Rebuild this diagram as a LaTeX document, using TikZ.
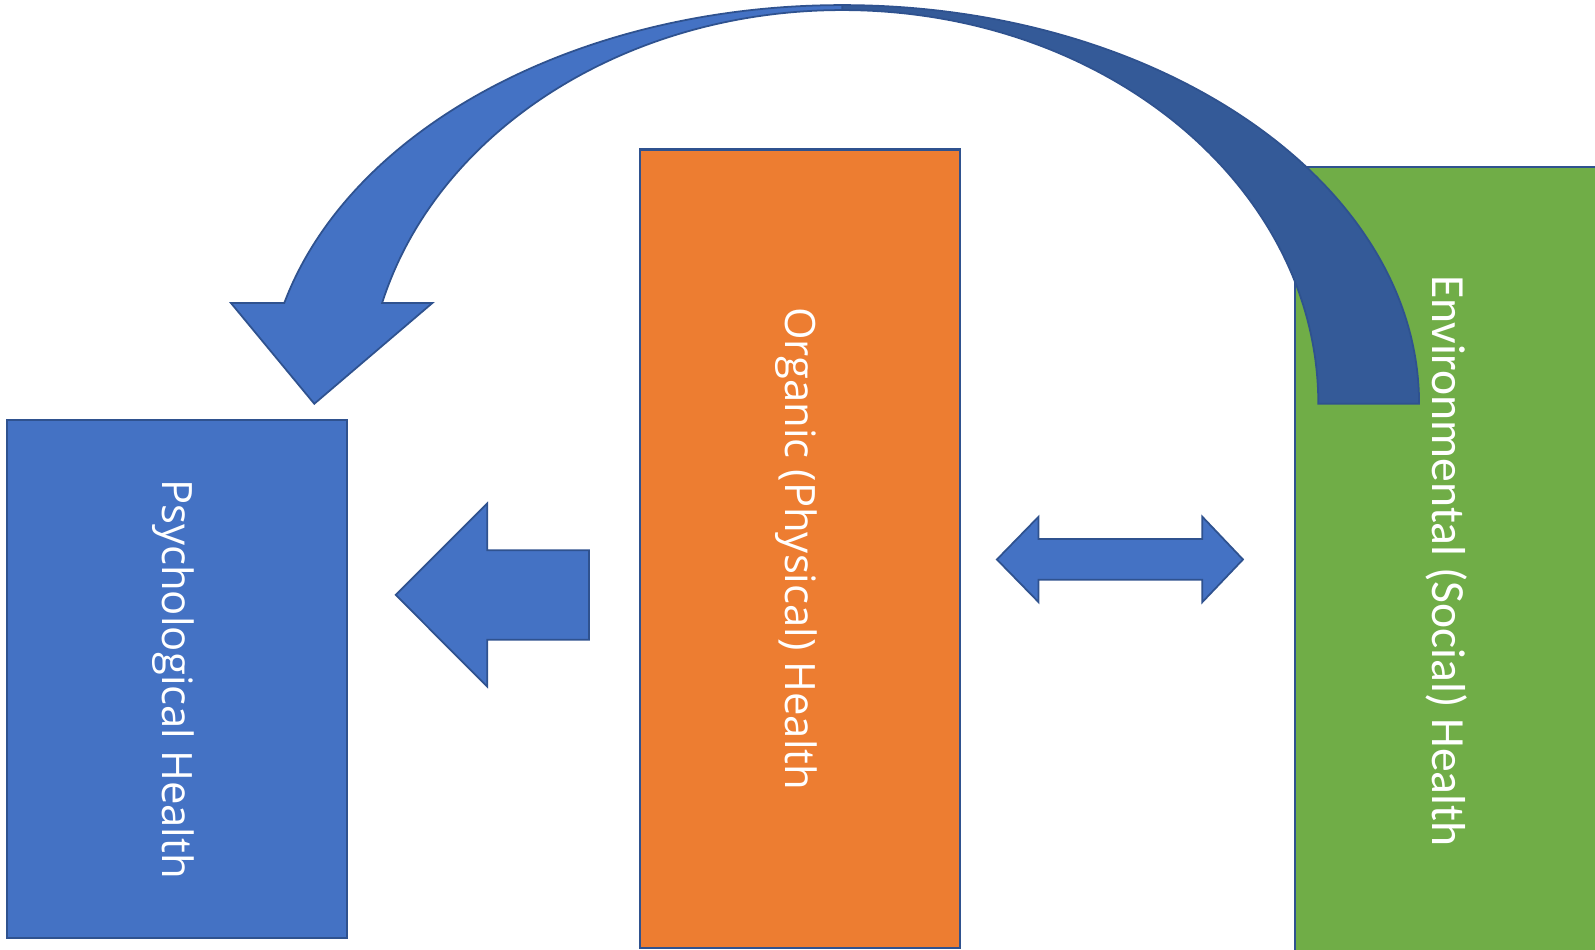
\documentclass[tikz,border=0pt]{standalone}
\usepackage{fontspec}
\newfontfamily\boxfont{Open Sans}
\newfontfamily\envfont{Carlito}
\definecolor{myblue}{HTML}{4472C4}
\definecolor{mydarkblue}{HTML}{345A98}
\definecolor{myedge}{HTML}{2F528F}
\definecolor{myorange}{HTML}{ED7D31}
\definecolor{mygreen}{HTML}{70AD47}
\newcommand{\boxlabel}[1]{\raisebox{-1.1pt}[\height][\depth]{#1}}
\tikzset{
	healthnode/.style={
			shape=rectangle,
			draw=myedge,
			line width=0.7pt,
			rotate=-90,
			text=white,
			inner sep=0pt
		},
	psychnode/.style={
			healthnode,
			fill=myblue,
			font=\boxfont\fontsize{11.9}{14}\selectfont
		},
	organicnode/.style={
			healthnode,
			fill=myorange,
			font=\boxfont\fontsize{11.9}{14}\selectfont
		},
	envnode/.style={
			healthnode,
			fill=mygreen,
			font=\envfont\fontsize{13.55}{16}\selectfont
		},
	blockarrow/.style={
			fill=myblue,
			draw=myedge,
			line width=0.5pt,
			line join=miter
		},
	backarrow/.style={
			blockarrow,
			fill=mydarkblue
		}
}

\begin{document}
\begin{tikzpicture}
	\useasboundingbox (0,0) rectangle (15.95,9.5);

	\node[psychnode, minimum width=5.18cm, minimum height=3.40cm] (psych) at (1.77,2.71) {\boxlabel{Psychological Health}};
	\node[organicnode, minimum width=7.985cm, minimum height=3.20cm] (organic) at (8.00,4.013) {\boxlabel{Organic (Physical) Health}};
	\node[envnode, minimum width=7.882cm, minimum height=3.04cm] (env) at (14.47,3.891) {Environmental (Social) Health};

	\draw[blockarrow] (3.957,3.551) -- (4.872,4.465) -- (4.872,3.997) -- (5.89,3.997)
		-- (5.89,3.102) -- (4.872,3.102) -- (4.872,2.634) -- cycle;

	\draw[blockarrow] (9.969,3.905) -- (10.386,4.333) -- (10.386,4.109) -- (12.023,4.109)
		-- (12.023,4.333) -- (12.43,3.905) -- (12.023,3.478) -- (12.023,3.702)
		-- (10.386,3.702) -- (10.386,3.478) -- cycle;

	\draw[backarrow] (14.191,5.462) arc[start angle=0, end angle=90, x radius=5.768, y radius=3.987]
		-- (8.423,9.399) arc[start angle=90, end angle=0, x radius=4.76, y radius=3.937] -- cycle;
	\draw[blockarrow] (8.423,9.449) arc[start angle=90, end angle=165.37, x radius=5.768, y radius=3.987]
		-- (2.31,6.469) -- (3.143,5.462) -- (4.323,6.469) -- (3.821,6.469)
		arc[start angle=165.18, end angle=90, x radius=4.76, y radius=3.937] -- cycle;
\end{tikzpicture}
\end{document}
